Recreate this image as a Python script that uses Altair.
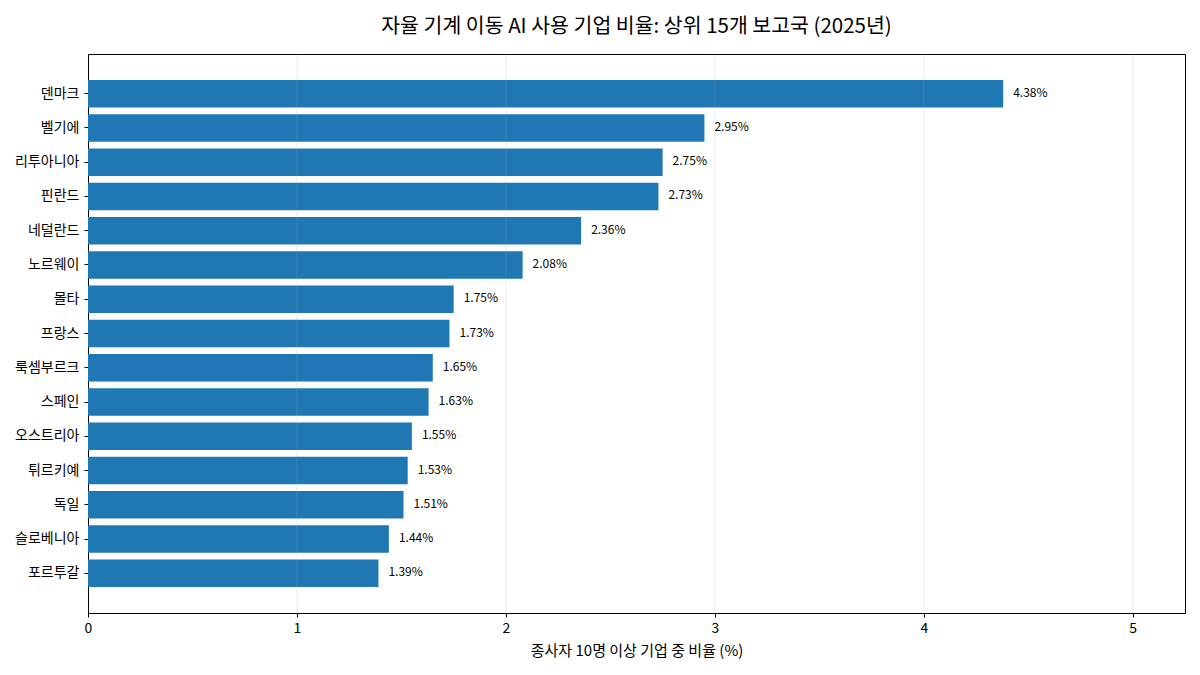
import pandas as pd
import altair as alt

# -----------------------------
# Data: share of enterprises using autonomous machine mobility AI (2025)
# -----------------------------
countries = [
    "덴마크", "벨기에", "리투아니아", "핀란드", "네덜란드",
    "노르웨이", "몰타", "프랑스", "룩셈부르크", "스페인",
    "오스트리아", "튀르키예", "독일", "슬로베니아", "포르투갈",
]
shares = [4.38, 2.95, 2.75, 2.73, 2.36, 2.08, 1.75, 1.73, 1.65, 1.63,
          1.55, 1.53, 1.51, 1.44, 1.39]
x_ticks = [0, 1, 2, 3, 4, 5]

df = pd.DataFrame({"country": countries, "share": shares})
df["label"] = df["share"].map(lambda v: f"{v:.2f}%")
grid_df = pd.DataFrame({"tick": x_ticks[1:]})

FONT = "Noto Sans CJK KR"
x_scale = alt.Scale(domain=[0, 5.25], nice=False, zero=True)

y_enc = alt.Y(
    "country:N",
    sort=countries,
    title=None,
    scale=alt.Scale(paddingInner=0.2, paddingOuter=0.76),
    axis=alt.Axis(labelFontSize=14, labelColor="black", labelFont=FONT,
                  tickColor="black", tickSize=4, domain=False, labelPadding=5),
)

x_enc = alt.X(
    "share:Q",
    title="종사자 10명 이상 기업 중 비율 (%)",
    scale=x_scale,
    stack=None,
    axis=alt.Axis(values=x_ticks, format="d", labelFontSize=14, labelFlush=False,
                  labelColor="black", labelFont=FONT, titleFont=FONT,
                  titleFontSize=15, titleFontWeight="normal", titleColor="black",
                  tickColor="black", tickSize=4, domain=False, grid=False,
                  labelPadding=4, titlePadding=8),
)

bars = alt.Chart(df).mark_bar(color="#1f77b4").encode(
    x=x_enc,
    x2=alt.datum(0),
    y=y_enc,
)

# grid lines drawn above the bars, as in the original
grid = alt.Chart(grid_df).mark_rule(color="#b0b0b0", opacity=0.3, strokeWidth=0.8).encode(
    x=alt.X("tick:Q", scale=x_scale),
)

labels = alt.Chart(df).mark_text(
    align="left", baseline="middle", dx=10, dy=-1, fontSize=12, font=FONT, color="black"
).encode(
    x=alt.X("share:Q", scale=x_scale),
    y=alt.Y("country:N", sort=countries),
    text="label:N",
)

chart = (bars + grid + labels).properties(
    width=1097,
    height=559,
    background="white",
    title=alt.TitleParams(
        "자율 기계 이동 AI 사용 기업 비율: 상위 15개 보고국 (2025년)",
        font=FONT, fontSize=20.5, fontWeight="normal", color="black", offset=16,
    ),
    autosize=alt.AutoSizeParams(type="none"),
    padding={"left": 80, "top": 46, "right": 7, "bottom": 54},
).configure_view(
    stroke="black", strokeWidth=1
)

chart.save("out.html", embed_options={"renderer": "svg", "actions": False})
print("Chart saved!")
